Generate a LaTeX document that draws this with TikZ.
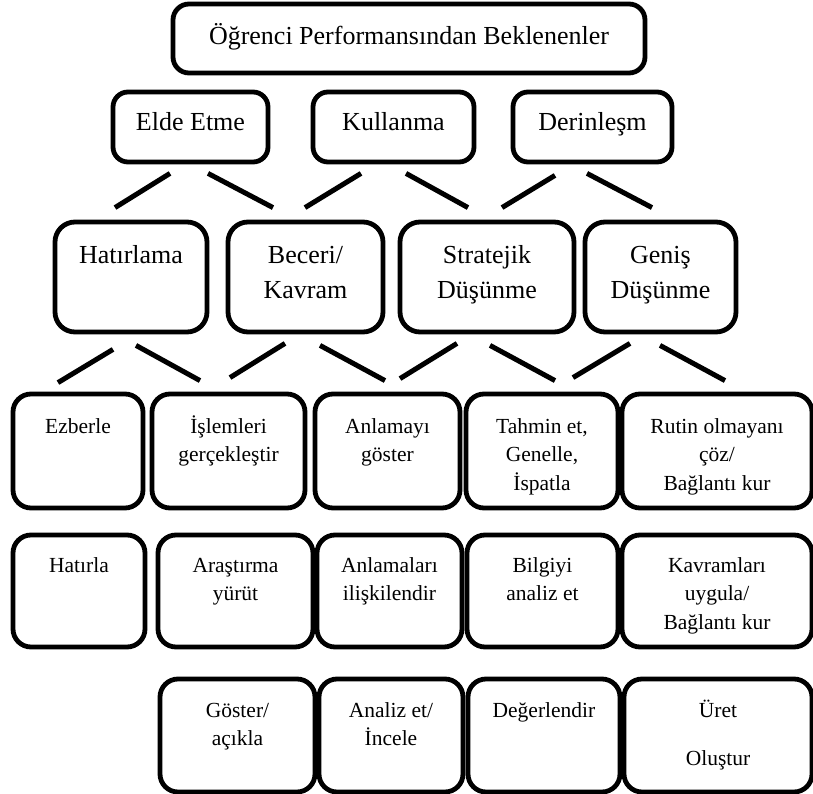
\documentclass[tikz,border=0pt]{standalone}
\usepackage{fontspec}
\setmainfont{Liberation Serif}
\usetikzlibrary{calc}

% box content: width, height, baseline of first line below top, text
\newcommand\bx[4]{\parbox[c][#2][t]{#1}{\centering\rule{0pt}{#3}#4}}

\tikzset{
  box/.style={draw, line width=4.8pt, rounded corners=#1, inner sep=0pt, fill=white},
  box/.default=18pt,
  big/.style={font=\fontsize{26}{35}\selectfont},
  small/.style={font=\fontsize{21.5}{28.5}\selectfont},
  link/.style={line width=5pt}
}

\begin{document}
\begin{tikzpicture}[x=1pt,y=-1pt]
\useasboundingbox (0,0) rectangle (813,794);

% title
\node[box=16pt,big] (top) at (409,38.5) {\bx{472pt}{69pt}{41pt}{Öğrenci Performansından Beklenenler}};

% level 2
\node[box=15pt,big] (elde) at (190.5,127) {\bx{155pt}{70pt}{38.5pt}{Elde Etme}};
\node[box=15pt,big] (kull) at (393.5,127) {\bx{161pt}{70pt}{38.5pt}{Kullanma}};
\node[box=15pt,big] (der)  at (592.5,127) {\bx{159pt}{70pt}{38.5pt}{Derinleşm}};

% level 3
\node[box=20pt,big] (hat)   at (131,277)   {\bx{152pt}{110pt}{41pt}{Hatırlama}};
\node[box=20pt,big] (bec)   at (305.5,277) {\bx{155pt}{110pt}{41pt}{Beceri/\\Kavram}};
\node[box=20pt,big] (strat) at (487,277)   {\bx{174pt}{110pt}{41pt}{Stratejik\\Düşünme}};
\node[box=20pt,big] (genis) at (660.5,277) {\bx{151pt}{110pt}{41pt}{Geniş\\Düşünme}};

% level 4
\node[box,small] (ezb) at (78,451)    {\bx{130pt}{114pt}{39pt}{Ezberle}};
\node[box,small] (isl) at (228.5,451) {\bx{153pt}{114pt}{39pt}{İşlemleri\\gerçekleştir}};
\node[box,small] (anl) at (387.5,451) {\bx{145pt}{114pt}{39pt}{Anlamayı\\göster}};
\node[box,small] (tah) at (542,451)   {\bx{152pt}{114pt}{39pt}{Tahmin et,\\Genelle,\\İspatla}};
\node[box,small] (rut) at (717,451)   {\bx{190pt}{114pt}{39pt}{Rutin olmayanı\\çöz/\\Bağlantı kur}};

% level 5
\node[box,small] (htr) at (79,591)    {\bx{132pt}{112pt}{37pt}{Hatırla}};
\node[box,small] (ara) at (235.5,591) {\bx{155pt}{112pt}{37pt}{Araştırma\\yürüt}};
\node[box,small] (ili) at (389.5,591) {\bx{145pt}{112pt}{37pt}{Anlamaları\\ilişkilendir}};
\node[box,small] (bil) at (542.5,591) {\bx{151pt}{112pt}{37pt}{Bilgiyi\\analiz et}};
\node[box,small] (kav) at (717,591)   {\bx{190pt}{112pt}{37pt}{Kavramları\\uygula/\\Bağlantı kur}};

% level 6
\node[box,small] (gos) at (237.5,735.5) {\bx{155pt}{113pt}{38pt}{Göster/\\açıkla}};
\node[box,small] (ana) at (391,735.5)   {\bx{144pt}{113pt}{38pt}{Analiz et/\\İncele}};
\node[box,small] (deg) at (544,735.5)   {\bx{152pt}{113pt}{38pt}{Değerlendir}};
\node[box,small] (ure) at (718,735.5)   {\bx{188pt}{113pt}{38pt}{Üret\\[20pt]Oluştur}};

% connectors, level 2 to level 3
\draw[link] ($(elde.south)+(-20.5,9)$) -- ($(hat.north)+(-16,-12)$);
\draw[link] ($(elde.south)+(17.5,9)$)  -- ($(bec.north)+(-32.5,-12)$);
\draw[link] ($(kull.south)+(-32.5,9)$) -- ($(bec.north)+(-0.5,-12)$);
\draw[link] ($(kull.south)+(12.5,9)$)  -- ($(strat.north)+(-19,-12)$);
\draw[link] ($(der.south)+(-37.5,11)$) -- ($(strat.north)+(15,-12)$);
\draw[link] ($(der.south)+(-5.5,9)$)   -- ($(genis.north)+(-8.5,-12)$);

% connectors, level 3 to level 4
\draw[link] ($(hat.south)+(-18,15)$)   -- ($(ezb.north)+(-20,-9)$);
\draw[link] ($(hat.south)+(5,11)$)     -- ($(isl.north)+(-28.5,-11)$);
\draw[link] ($(bec.south)+(-20.5,9)$)  -- ($(isl.north)+(1.5,-14)$);
\draw[link] ($(bec.south)+(14.5,11)$)  -- ($(anl.north)+(-2.5,-11)$);
\draw[link] ($(strat.south)+(-30,9)$)  -- ($(anl.north)+(12.5,-13)$);
\draw[link] ($(strat.south)+(3,11)$)   -- ($(tah.north)+(13,-11)$);
\draw[link] ($(genis.south)+(-30.5,9)$) -- ($(tah.north)+(31,-14)$);
\draw[link] ($(genis.south)+(-0.5,11)$) -- ($(rut.north)+(8,-11)$);
\end{tikzpicture}
\end{document}
